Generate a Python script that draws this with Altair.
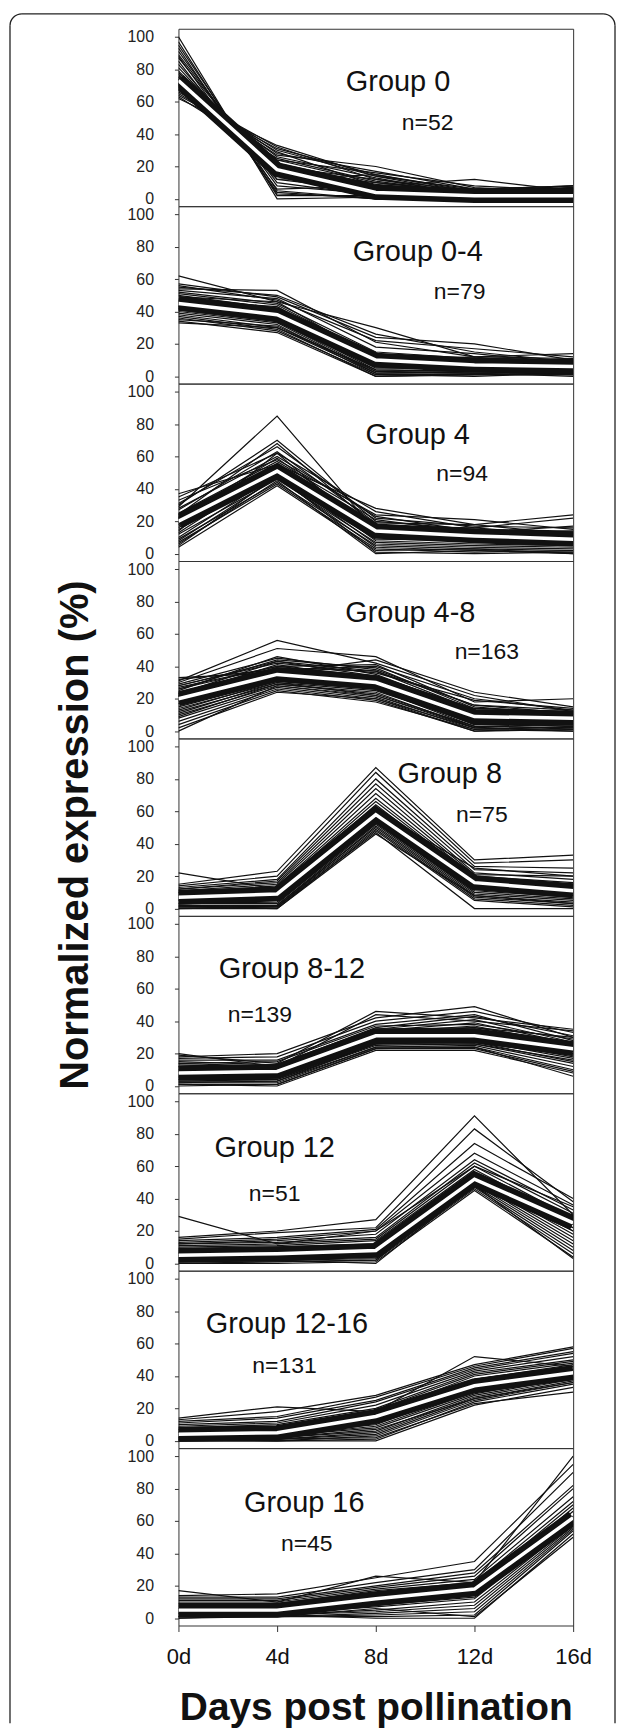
import altair as alt
import pandas as pd

FONT = "Liberation Sans"

DAYS = [0, 4, 8, 12, 16]
Y_TICKS = [0, 20, 40, 60, 80, 100]

GROUP_NAMES = ["Group 0", "Group 0-4", "Group 4", "Group 4-8", "Group 8",
               "Group 8-12", "Group 12", "Group 12-16", "Group 16"]
GROUP_N = ["n=52", "n=79", "n=94", "n=163", "n=75", "n=139", "n=51", "n=131", "n=45"]

# expression profiles: values at 0d, 4d, 8d, 12d, 16d
G0_LINES = [
    [100, 0, 1, 0, 6], [97, 2, 2, 1, 5], [95, 5, 0, 0, 4], [93, 3, 1, 2, 7],
    [91, 8, 3, 1, 4], [89, 10, 2, 0, 3], [88, 4, 0, 0, 0], [87, 12, 5, 2, 6],
    [85, 6, 8, 5, 3], [83, 14, 7, 3, 5], [81, 16, 10, 4, 8], [79, 18, 6, 2, 4],
    [77, 12, 15, 5, 7], [75, 20, 12, 3, 6], [74, 15, 1, 0, 1], [73, 24, 16, 8, 5],
    [72, 22, 9, 4, 3], [71, 26, 13, 2, 7], [70, 28, 17, 6, 8], [70, 20, 0, 1, 0],
    [69, 24, 10, 4, 5], [68, 30, 14, 3, 6], [67, 27, 20, 7, 4], [66, 32, 12, 5, 6],
    [65, 29, 8, 12, 5], [64, 31, 15, 4, 7], [63, 25, 11, 3, 6], [62, 33, 14, 6, 8],
    [76, 17, 3, 1, 1], [74, 19, 5, 2, 2], [72, 20, 4, 1, 3], [78, 15, 2, 0, 1],
    [71, 21, 6, 3, 2], [75, 16, 1, 0, 0],
]
G0_MEAN = [73, 18, 4, 2, 2]

G04_LINES = [
    [62, 46, 30, 12, 14], [57, 49, 24, 20, 10], [56, 47, 22, 17, 12], [55, 50, 26, 15, 9],
    [54, 53, 21, 12, 11], [53, 48, 18, 14, 8], [52, 45, 15, 11, 10], [51, 44, 13, 10, 7],
    [50, 42, 12, 9, 6], [49, 46, 11, 8, 9], [48, 40, 10, 12, 5], [47, 43, 9, 7, 8],
    [46, 38, 8, 6, 6], [44, 36, 5, 5, 4], [43, 37, 6, 4, 3], [42, 35, 4, 3, 5],
    [41, 34, 3, 2, 2], [40, 33, 2, 3, 1], [39, 32, 1, 1, 2], [38, 30, 2, 2, 3],
    [37, 29, 0, 1, 1], [36, 28, 1, 0, 2], [35, 31, 3, 2, 0], [34, 27, 0, 1, 1],
    [33, 30, 4, 3, 2], [46, 39, 11, 8, 7], [44, 37, 9, 6, 5], [45, 36, 8, 7, 6],
    [47, 40, 12, 9, 8], [43, 38, 7, 5, 5], [42, 36, 6, 4, 4],
]
G04_MEAN = [45, 38, 10, 7, 6]

G4_LINES = [
    [37, 55, 28, 18, 24], [35, 62, 26, 16, 22], [33, 58, 24, 21, 15], [31, 66, 22, 17, 16],
    [30, 70, 20, 15, 14], [29, 85, 14, 12, 10], [28, 60, 23, 14, 13], [27, 63, 19, 18, 12],
    [25, 57, 21, 13, 17], [24, 68, 17, 16, 11], [23, 52, 18, 12, 14], [22, 59, 15, 14, 9],
    [20, 55, 16, 11, 12], [18, 50, 12, 10, 8], [16, 54, 10, 9, 10], [15, 48, 9, 8, 6],
    [14, 62, 11, 9, 7], [13, 52, 8, 6, 5], [12, 46, 7, 5, 4], [10, 49, 6, 4, 3],
    [9, 44, 5, 3, 2], [8, 47, 4, 2, 1], [7, 43, 3, 1, 2], [6, 45, 0, 2, 0],
    [5, 48, 1, 0, 1], [4, 42, 2, 3, 0], [21, 52, 15, 12, 10], [19, 50, 13, 10, 8],
    [18, 53, 12, 9, 7], [22, 49, 16, 13, 11], [17, 51, 11, 10, 9], [20, 47, 10, 8, 6],
]
G4_MEAN = [20, 51, 14, 11, 9]

G48_LINES = [
    [33, 36, 44, 24, 15], [32, 38, 40, 20, 13], [31, 56, 42, 22, 12], [30, 51, 46, 18, 20],
    [29, 45, 38, 16, 11], [28, 42, 36, 19, 14], [27, 40, 41, 15, 10], [26, 44, 39, 14, 12],
    [25, 46, 35, 12, 9], [24, 39, 37, 13, 11], [23, 43, 34, 11, 10], [22, 41, 32, 10, 8],
    [21, 37, 33, 9, 9], [20, 36, 31, 8, 7], [19, 35, 30, 7, 6], [18, 34, 29, 6, 8],
    [17, 33, 28, 5, 5], [16, 32, 27, 4, 6], [15, 31, 26, 3, 4], [14, 30, 25, 5, 3],
    [12, 29, 24, 2, 5], [11, 30, 22, 3, 2], [10, 28, 21, 1, 3], [8, 27, 20, 2, 1],
    [6, 26, 19, 0, 2], [4, 25, 18, 1, 0], [2, 24, 20, 0, 1], [0, 28, 22, 2, 0],
    [21, 36, 31, 10, 9], [19, 34, 29, 8, 7], [20, 33, 28, 7, 6], [22, 37, 32, 11, 10],
    [18, 35, 31, 9, 8], [17, 33, 27, 6, 5], [23, 38, 33, 12, 9], [26, 40, 34, 14, 12],
    [13, 31, 27, 4, 4], [28, 43, 37, 16, 13], [9, 29, 23, 3, 2],
]
G48_MEAN = [20, 35, 30, 9, 8]

G8_LINES = [
    [22, 12, 60, 25, 20], [15, 23, 87, 30, 33], [14, 20, 84, 28, 30], [13, 18, 80, 26, 25],
    [12, 17, 77, 24, 22], [12, 16, 74, 22, 18], [11, 15, 71, 21, 20], [10, 14, 68, 20, 16],
    [10, 13, 66, 19, 15], [9, 12, 64, 18, 14], [8, 11, 62, 17, 13], [7, 10, 60, 16, 12],
    [6, 8, 58, 14, 10], [5, 6, 56, 13, 9], [4, 5, 55, 12, 8], [3, 4, 54, 11, 7],
    [3, 3, 53, 10, 6], [2, 2, 52, 9, 5], [2, 1, 51, 8, 4], [1, 2, 50, 7, 3],
    [1, 1, 49, 6, 2], [0, 0, 48, 5, 1], [0, 1, 47, 0, 0], [1, 0, 46, 8, 3],
    [8, 10, 59, 17, 12], [6, 8, 57, 15, 10], [7, 7, 56, 14, 9], [9, 11, 60, 18, 13],
    [5, 9, 55, 13, 8],
]
G8_MEAN = [7, 9, 58, 16, 11]

G812_LINES = [
    [20, 12, 44, 40, 34], [19, 14, 46, 42, 35], [18, 20, 42, 49, 30], [17, 18, 40, 46, 33],
    [16, 16, 38, 44, 28], [15, 13, 36, 43, 31], [14, 12, 35, 41, 27], [13, 11, 34, 39, 26],
    [12, 11, 33, 37, 25], [11, 10, 32, 36, 30], [10, 10, 31, 35, 24], [9, 9, 30, 33, 22],
    [8, 8, 29, 32, 21], [7, 7, 28, 30, 20], [6, 6, 28, 29, 18], [5, 5, 27, 28, 17],
    [4, 4, 26, 27, 15], [3, 4, 25, 26, 14], [3, 3, 24, 25, 12], [2, 2, 24, 24, 10],
    [1, 1, 23, 23, 9], [1, 0, 22, 22, 8], [0, 1, 23, 24, 6], [2, 3, 26, 30, 19],
    [9, 10, 32, 32, 24], [7, 8, 30, 30, 22], [8, 7, 29, 29, 21], [10, 11, 33, 33, 25],
    [6, 7, 28, 28, 20], [5, 6, 27, 27, 19], [12, 13, 35, 36, 27], [4, 5, 26, 26, 16],
    [14, 15, 37, 38, 29],
]
G812_MEAN = [8, 9, 31, 31, 23]

G12_LINES = [
    [29, 12, 20, 60, 35], [16, 20, 27, 91, 30], [15, 19, 22, 83, 38], [14, 16, 21, 74, 40],
    [13, 15, 20, 68, 36], [12, 14, 18, 64, 33], [12, 13, 16, 62, 31], [11, 12, 15, 60, 28],
    [10, 11, 14, 58, 26], [9, 10, 12, 56, 24], [8, 9, 10, 54, 22], [7, 8, 9, 53, 20],
    [6, 7, 8, 52, 18], [5, 6, 7, 51, 16], [4, 5, 6, 50, 14], [3, 4, 5, 49, 12],
    [2, 3, 4, 48, 10], [2, 2, 3, 47, 8], [1, 1, 2, 46, 6], [0, 0, 1, 45, 4],
    [1, 2, 0, 48, 3], [0, 1, 2, 50, 20], [6, 7, 9, 53, 26], [4, 5, 7, 51, 24],
    [5, 4, 6, 50, 22], [7, 8, 10, 54, 27],
]
G12_MEAN = [5, 6, 8, 52, 25]

G1216_LINES = [
    [14, 21, 18, 52, 46], [13, 18, 28, 47, 58], [12, 15, 27, 46, 57], [11, 14, 25, 45, 55],
    [10, 12, 24, 44, 54], [9, 11, 22, 43, 52], [8, 10, 20, 42, 50], [7, 9, 19, 41, 49],
    [6, 8, 17, 40, 48], [6, 7, 16, 38, 46], [5, 6, 14, 36, 45], [4, 5, 12, 34, 44],
    [3, 4, 10, 32, 42], [3, 3, 9, 30, 41], [2, 3, 8, 29, 40], [2, 2, 6, 28, 39],
    [1, 1, 5, 27, 38], [1, 1, 4, 26, 37], [0, 0, 3, 25, 36], [0, 0, 1, 24, 35],
    [1, 0, 0, 22, 33], [0, 1, 2, 23, 30], [5, 6, 16, 35, 43], [3, 4, 14, 33, 41],
    [4, 5, 13, 31, 39], [5, 7, 17, 36, 44], [2, 3, 12, 30, 38], [7, 8, 18, 38, 47],
    [1, 2, 7, 26, 36],
]
G1216_MEAN = [4, 5, 15, 34, 42]

G16_LINES = [
    [17, 10, 26, 22, 100], [14, 15, 25, 35, 95], [13, 13, 22, 30, 90], [12, 12, 20, 28, 82],
    [11, 11, 19, 26, 80], [10, 10, 18, 24, 75], [9, 9, 17, 22, 72], [8, 8, 15, 20, 70],
    [7, 7, 14, 18, 68], [6, 6, 12, 16, 66], [5, 5, 10, 15, 63], [4, 4, 8, 13, 61],
    [3, 3, 7, 12, 60], [2, 2, 5, 10, 58], [2, 2, 4, 8, 57], [1, 1, 3, 6, 56],
    [1, 1, 2, 4, 55], [0, 1, 1, 2, 54], [0, 2, 0, 0, 52], [1, 1, 6, 1, 50],
    [6, 6, 13, 19, 63], [4, 4, 11, 17, 61], [5, 5, 10, 16, 59], [3, 3, 9, 15, 58],
]
G16_MEAN = [5, 5, 12, 18, 62]

LINES = [G0_LINES, G04_LINES, G4_LINES, G48_LINES, G8_LINES,
         G812_LINES, G12_LINES, G1216_LINES, G16_LINES]
MEANS = [G0_MEAN, G04_MEAN, G4_MEAN, G48_MEAN, G8_MEAN,
         G812_MEAN, G12_MEAN, G1216_MEAN, G16_MEAN]

# annotation anchors (day, %) for the group name and the n= label
NAME_POS = [(8.9, 72), (9.7, 77), (9.7, 73), (9.4, 73), (11.0, 83),
            (4.6, 72), (3.9, 71), (4.4, 72), (5.1, 71)]
N_POS = [(10.1, 47), (11.4, 52), (11.5, 49), (12.5, 49), (12.3, 58),
         (3.3, 44), (3.9, 43), (4.3, 46), (5.2, 46)]

PANEL_W = 396
PANEL_H = 178


def panel(i):
    last = i == len(LINES) - 1
    rows = []
    for j, prof in enumerate(LINES[i]):
        for d, v in zip(DAYS, prof):
            rows.append({"line": j, "day": d, "value": v})
    df = pd.DataFrame(rows)
    mean_df = pd.DataFrame({"day": DAYS, "value": MEANS[i]})
    name_df = pd.DataFrame({"day": [NAME_POS[i][0]], "value": [NAME_POS[i][1]], "t": [GROUP_NAMES[i]]})
    n_df = pd.DataFrame({"day": [N_POS[i][0]], "value": [N_POS[i][1]], "t": [GROUP_N[i]]})

    if last:
        xaxis = alt.Axis(values=DAYS, labelExpr="datum.value + 'd'", labelFontSize=22,
                         labelColor="#111", tickSize=6, labelPadding=15, tickColor="#333",
                         domain=False, grid=False, labelFlush=False,
                         title="Days post pollination", titleFontSize=39,
                         titleFontWeight="bold", titleColor="#111", titlePadding=21,
                         titleFont=FONT, labelFont=FONT)
    else:
        xaxis = None
    xenc = alt.X("day:Q", scale=alt.Scale(domain=[0, 16], nice=False, zero=False), axis=xaxis)
    yenc = alt.Y("value:Q", scale=alt.Scale(domain=[-4.5, 105], nice=False, zero=False),
                 axis=alt.Axis(values=Y_TICKS, labelFontSize=16, labelColor="#222",
                               tickSize=4, labelPadding=21, tickColor="#333", domain=False,
                               grid=False, title=None, labelFont=FONT))

    lines = alt.Chart(df).mark_line(color="#111", strokeWidth=1.2, clip=True).encode(
        x=xenc, y=yenc, detail="line:N")
    halo = alt.Chart(mean_df).mark_line(color="#111", strokeWidth=15, clip=True).encode(
        x=xenc, y=yenc)
    mean = alt.Chart(mean_df).mark_line(color="white", strokeWidth=3.5, clip=True).encode(
        x=xenc, y=yenc)
    name = alt.Chart(name_df).mark_text(fontSize=29, font=FONT, color="#111").encode(
        x=xenc, y=yenc, text="t:N")
    nlab = alt.Chart(n_df).mark_text(fontSize=23, font=FONT, color="#111").encode(
        x=xenc, y=yenc, text="t:N")
    return alt.layer(lines, halo, mean, name, nlab).properties(
        width=PANEL_W, height=PANEL_H,
        view=alt.ViewBackground(stroke="#333", strokeWidth=1))


panels = [panel(i) for i in range(len(LINES))]
stack = alt.vconcat(*panels, spacing=0, bounds="flush")

# left column: y title and the rounded frame around the figure
TITLE_W = 100
FRAME_R = 607
FRAME_TOP = -15
FRAME_BOTTOM = 1700
CORNER = 12

tdf = pd.DataFrame({"t": ["Normalized expression (%)"]})
base = alt.Chart(tdf)
ytitle = base.mark_text(angle=270, fontSize=40, fontWeight="bold", font=FONT,
                        color="#111", align="center", baseline="middle").encode(
    x=alt.value(66.5), y=alt.value(809), text="t:N")
left_rule = base.mark_rule(color="#222", strokeWidth=1.3).encode(
    x=alt.value(0), y=alt.value(FRAME_TOP + CORNER), y2=alt.value(FRAME_BOTTOM))
right_rule = base.mark_rule(color="#222", strokeWidth=1.3).encode(
    x=alt.value(FRAME_R), y=alt.value(FRAME_TOP + CORNER), y2=alt.value(FRAME_BOTTOM))
top_rule = base.mark_rule(color="#222", strokeWidth=1.3).encode(
    x=alt.value(CORNER), x2=alt.value(FRAME_R - CORNER), y=alt.value(FRAME_TOP))
tl = base.mark_arc(radius=CORNER + 0.65, innerRadius=CORNER - 0.65, theta=4.7124,
                   theta2=6.2832, color="#222").encode(
    x=alt.value(CORNER), y=alt.value(FRAME_TOP + CORNER))
tr = base.mark_arc(radius=CORNER + 0.65, innerRadius=CORNER - 0.65, theta=0,
                   theta2=1.5708, color="#222").encode(
    x=alt.value(FRAME_R - CORNER), y=alt.value(FRAME_TOP + CORNER))

title_col = alt.layer(left_rule, right_rule, top_rule, tl, tr, ytitle).properties(
    width=TITLE_W, height=PANEL_H * len(LINES),
    view=alt.ViewBackground(stroke="transparent"))

chart = alt.hconcat(title_col, stack, spacing=69, bounds="flush").properties(
    padding={"left": 0, "top": 1, "right": 0, "bottom": 0},
    background="white",
).configure(font=FONT)

chart.save("out.html", embed_options={"renderer": "svg", "actions": False})
